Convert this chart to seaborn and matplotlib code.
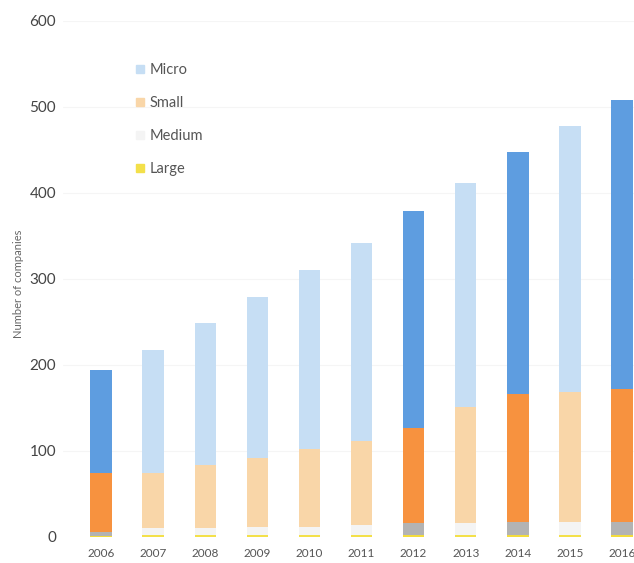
import matplotlib
matplotlib.use("Agg")
import matplotlib.pyplot as plt
import seaborn as sns
import numpy as np
from matplotlib.lines import Line2D

years = ["2006", "2007", "2008", "2009", "2010", "2011", "2012", "2013", "2014", "2015", "2016"]
large = [1, 2, 2, 2, 2, 2, 2, 2, 2, 2, 2]
medium = [5, 8, 9, 10, 10, 12, 14, 14, 15, 16, 15]
small = [69, 64, 73, 80, 90, 98, 111, 135, 149, 151, 155]
micro = [119, 144, 165, 187, 208, 230, 252, 261, 282, 309, 336]
highlight = ["2006", "2012", "2014", "2016"]
series_names = ["Micro", "Small", "Medium", "Large"]

dark = {"Micro": "#5E9DE0", "Small": "#F7923F", "Medium": "#B3B3B3", "Large": "#F3DC3C"}
light = {"Micro": "#C6DEF4", "Small": "#F9D6A8", "Medium": "#F4F4F4", "Large": "#F3E04A"}

sns.set_style("white")
plt.rcParams["font.family"] = ["Lato", "DejaVu Sans"]

fig = plt.figure(figsize=(6.34, 5.63), dpi=100)
ax = fig.add_axes([63 / 634, 26 / 563, 571 / 634, 516 / 563])

l = np.array(large)
m = np.array(medium)
s = np.array(small)
mi = np.array(micro)
layers = [
    ("Micro", l + m + s + mi),
    ("Small", l + m + s),
    ("Medium", l + m),
    ("Large", l),
]
for name, cum in layers:
    pal = {y: (dark[name] if y in highlight else light[name]) for y in years}
    sns.barplot(x=years, y=cum, hue=years, palette=pal, dodge=False,
                legend=False, width=0.41, ax=ax, saturation=1, linewidth=0)

ax.set_xlim(-0.73, 10.23)
ax.set_ylim(0, 600)
ax.set_yticks([0, 100, 200, 300, 400, 500, 600])
for yv in [100, 200, 300, 400, 500, 600]:
    ax.axhline(yv, color="#F5F5F5", lw=0.8, zorder=0)
for sp in ax.spines.values():
    sp.set_visible(False)
ax.tick_params(axis="y", length=0, pad=5, labelsize=11, labelcolor="#444444")
ax.tick_params(axis="x", length=0, pad=8, labelsize=8.5, labelcolor="#555555")
ax.set_xlabel("")
ax.set_ylabel("Number of companies", fontsize=8, color="#666666")
ax.yaxis.set_label_coords(-0.068, 0.49)

handles = [Line2D([0], [0], marker="s", linestyle="", markersize=6,
                  markerfacecolor=light[n], markeredgecolor=light[n]) for n in series_names]
leg = ax.legend(handles, series_names, loc="upper left", bbox_to_anchor=(120 / 634, 1 - 50 / 563),
                bbox_transform=fig.transFigure, frameon=False, fontsize=10.5,
                labelspacing=1.3, handletextpad=0.1, handlelength=1.0)
for t in leg.get_texts():
    t.set_color("#555555")

fig.savefig("out.png", dpi=100)
